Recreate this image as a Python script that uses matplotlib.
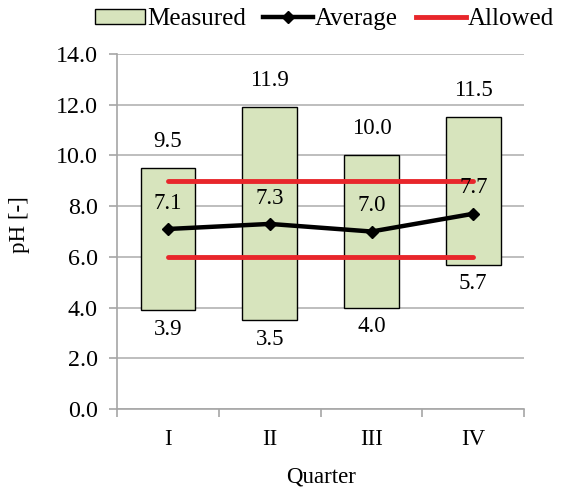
import numpy as np
import matplotlib.pyplot as plt
from matplotlib.lines import Line2D
from matplotlib.patches import Patch

plt.rcParams['font.family'] = ['Liberation Serif', 'DejaVu Serif']

quarters = ['I', 'II', 'III', 'IV']
ph_min = [3.9, 3.5, 4.0, 5.7]
ph_max = [9.5, 11.9, 10.0, 11.5]
ph_avg = [7.1, 7.3, 7.0, 7.7]
allowed_low = 6.0
allowed_high = 9.0

fs = 16.5
grey = '#a6a6a6'
green = '#d7e4bd'
red = '#e8262b'

fig = plt.figure(figsize=(5.63, 4.9), dpi=100)
ax = fig.add_axes([0.208, 0.165, 0.723, 0.725])

x = np.arange(len(quarters))
heights = np.array(ph_max) - np.array(ph_min)
ax.bar(x, heights, bottom=ph_min, width=0.54, color=green,
       edgecolor='black', linewidth=1.0, zorder=2)

# allowed range
ax.plot([x[0], x[-1]], [allowed_high, allowed_high], color=red, lw=3.5,
        solid_capstyle='round', zorder=3)
ax.plot([x[0], x[-1]], [allowed_low, allowed_low], color=red, lw=3.5,
        solid_capstyle='round', zorder=3)

ax.plot(x, ph_avg, color='black', lw=3.2, marker='D', markersize=6.5, zorder=4)

for i in x:
    ax.annotate(f'{ph_max[i]:.1f}', (i, ph_max[i]), xytext=(0, 11.5), textcoords='offset points',
                ha='center', va='bottom', fontsize=fs)
    ax.annotate(f'{ph_min[i]:.1f}', (i, ph_min[i]), xytext=(0, -6), textcoords='offset points',
                ha='center', va='top', fontsize=fs)
    ax.annotate(f'{ph_avg[i]:.1f}', (i, ph_avg[i]), xytext=(0, 11), textcoords='offset points',
                ha='center', va='bottom', fontsize=fs, zorder=5)

ax.set_xlim(-0.5, 3.5)
ax.set_ylim(0, 14)
yt = np.arange(0, 14.1, 2)
ax.set_yticks(yt)
ax.set_yticklabels([f'{v:.1f}' for v in yt])
ax.set_xticks(x)
ax.set_xticklabels(quarters)
ax.set_xticks(np.arange(-0.5, 3.6, 1), minor=True)
ax.tick_params(axis='x', which='major', length=0, pad=14, labelsize=fs)
ax.tick_params(axis='x', which='minor', length=6, color=grey, width=1.2)
ax.tick_params(axis='y', length=6, color=grey, width=1.2, labelsize=17.3, pad=8)
ax.grid(axis='y', color='#b3b3b3', lw=1.2, zorder=0)
ax.set_axisbelow(True)
for s in ['top', 'right']:
    ax.spines[s].set_visible(False)
for s in ['left', 'bottom']:
    ax.spines[s].set_color(grey)
    ax.spines[s].set_linewidth(1.2)

ax.set_ylabel('pH [-]', fontsize=fs)
ax.yaxis.set_label_coords(-0.215, 0.52)
ax.set_xlabel('Quarter', fontsize=fs, labelpad=12)

handles = [
    Patch(facecolor=green, edgecolor='black', label='Measured'),
    Line2D([], [], color='black', lw=3.2, marker='D', markersize=6.5, label='Average'),
    Line2D([], [], color=red, lw=3.5, label='Allowed'),
]
fig.legend(handles=handles, loc='center right', bbox_to_anchor=(0.984, 1 - 19 / 490), ncol=3,
           frameon=False, fontsize=18, handlelength=2.0, handleheight=0.55,
           handletextpad=0.08, columnspacing=0.7, borderaxespad=0, borderpad=0)

fig.savefig('out.png', dpi=100)
